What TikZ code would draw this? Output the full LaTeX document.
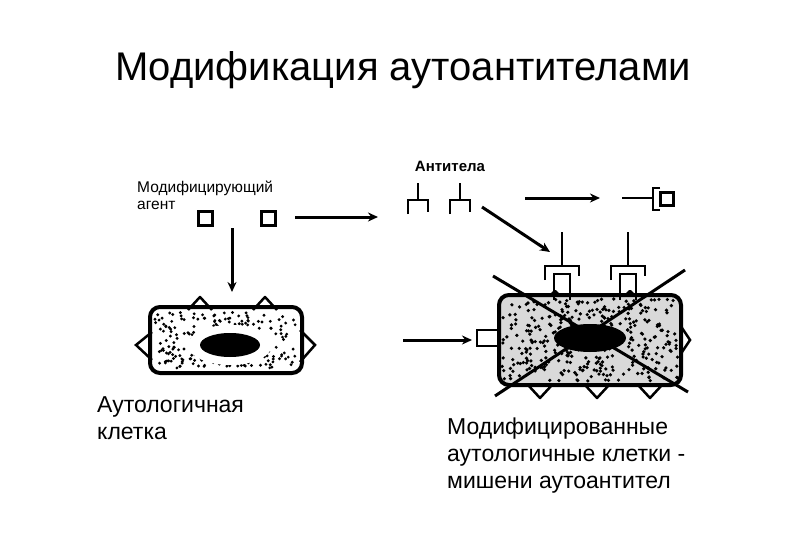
\documentclass[tikz,border=0pt]{standalone}
\usepackage{fontspec}
\setmainfont{Liberation Sans}
\usetikzlibrary{arrows.meta}
\begin{document}
\begin{tikzpicture}[x=1pt,y=-1pt,
  arr/.style={line width=3pt,-{Stealth[length=10pt,width=9pt]}},
  cellline/.style={line width=4pt,rounded corners=10pt},
  ab/.style={line width=2.5pt},
  lbl/.style={inner sep=0pt,align=left,anchor=north west}]
\useasboundingbox (0,0) rectangle (810,540);
\pgfmathsetseed{7}
% title
\node[inner sep=0pt,font=\fontsize{40}{46}\selectfont] (title) at (403,70) {Модификация аутоантителами};
% labels
\node[lbl,font=\fontsize{15.5}{17}\selectfont] (agent) at (137,181) {Модифицирующий\\агент};
\node[lbl,font=\fontsize{23}{27}\selectfont] (auto) at (97,396) {Аутологичная\\клетка};
\node[lbl,font=\fontsize{23}{27}\selectfont] (mod) at (447,418) {Модифицированные\\аутологичные клетки -\\мишени аутоантител};
\node[inner sep=0pt,font=\bfseries\fontsize{15}{17}\selectfont] (atl) at (450,166) {Антитела};
% modifying agents
\node[draw,line width=3pt,minimum size=14pt,inner sep=0pt] (sq1) at (205,218) {};
\node[draw,line width=3pt,minimum size=14pt,inner sep=0pt] (sq2) at (268,218) {};
\coordinate (a1s) at (295,217); \coordinate (a1e) at (378,217);
\draw[arr] (a1s) -- (a1e);
\coordinate (a2s) at (232,228); \coordinate (a2e) at (232,292);
\draw[arr] (a2s) -- (a2e);
% left cell
\foreach \x in {200,265}{\draw[line width=2.5pt,line join=round] (\x-12,310) -- (\x,297) -- (\x+12,310);}
\draw[line width=2.5pt] (152,332) -- (136,345) -- (152,360);
\draw[line width=2.5pt] (300,330) -- (315,345) -- (300,362);
\node[draw,cellline,minimum width=152pt,minimum height=66pt] (cell1) at (226,340) {};
\foreach \i in {1,...,220}{
  \pgfmathsetmacro{\px}{155+rnd*142}\pgfmathsetmacro{\py}{312+rnd*56}
  \fill (\px,\py) circle (1.6pt);}
\fill[white] (230,345) ellipse (42 and 20);
\fill (230,345) ellipse (30 and 12);
% arrow between
\coordinate (a3s) at (403,340); \coordinate (a3e) at (472,340);
\draw[arr] (a3s) -- (a3e);
% right cell
\draw[line width=2.5pt] (477,330) rectangle (500,346);
\foreach \x in {555,630}{\draw[line width=2.5pt,line join=round] (\x-14,305) -- (\x,291) -- (\x+14,305);}
\foreach \x in {540,597,650}{\draw[line width=2.5pt,line join=round] (\x-12,385) -- (\x,398) -- (\x+12,385);}
\draw[line width=2.5pt] (678,322) -- (690,340) -- (678,358);
\node[draw,fill=black!15,cellline,minimum width=182pt,minimum height=90pt] (cell2) at (590,340) {};
\foreach \i in {1,...,360}{
  \pgfmathsetmacro{\px}{502+rnd*176}\pgfmathsetmacro{\py}{299+rnd*82}
  \fill (\px,\py) circle (1.8pt);}
\fill (590,338) ellipse (36 and 14);
\coordinate (c1) at (493,276); \coordinate (c2) at (688,392);
\coordinate (c3) at (685,270); \coordinate (c4) at (495,396);
\draw[line width=3pt] (c1) -- (c2);
\draw[line width=3pt] (c3) -- (c4);
% bound antibodies
\foreach \x in {562,628}{
  \draw[ab] (\x,232) -- (\x,265);
  \draw[ab] (\x-17,280) -- (\x-17,266) -- (\x+17,266) -- (\x+17,276);
  \draw[ab] (\x-8,300) -- (\x-8,274) -- (\x+8,274) -- (\x+8,300);}
% free antibodies
\foreach \x in {418,460}{
  \draw[ab] (\x,183) -- (\x,200);
  \draw[ab] (\x-10,214) -- (\x-10,200) -- (\x+10,200) -- (\x+10,212);}
\coordinate (a4s) at (482,207); \coordinate (a4e) at (550,252);
\draw[arr] (a4s) -- (a4e);
\coordinate (a5s) at (525,198); \coordinate (a5e) at (600,198);
\draw[arr] (a5s) -- (a5e);
% complex
\draw[ab] (622,198) -- (652,198);
\draw[ab] (660,188) -- (653,188) -- (653,210) -- (660,210);
\node[draw,line width=2.5pt,minimum size=13pt,inner sep=0pt] (sq3) at (667,199) {};
\end{tikzpicture}
\end{document}
